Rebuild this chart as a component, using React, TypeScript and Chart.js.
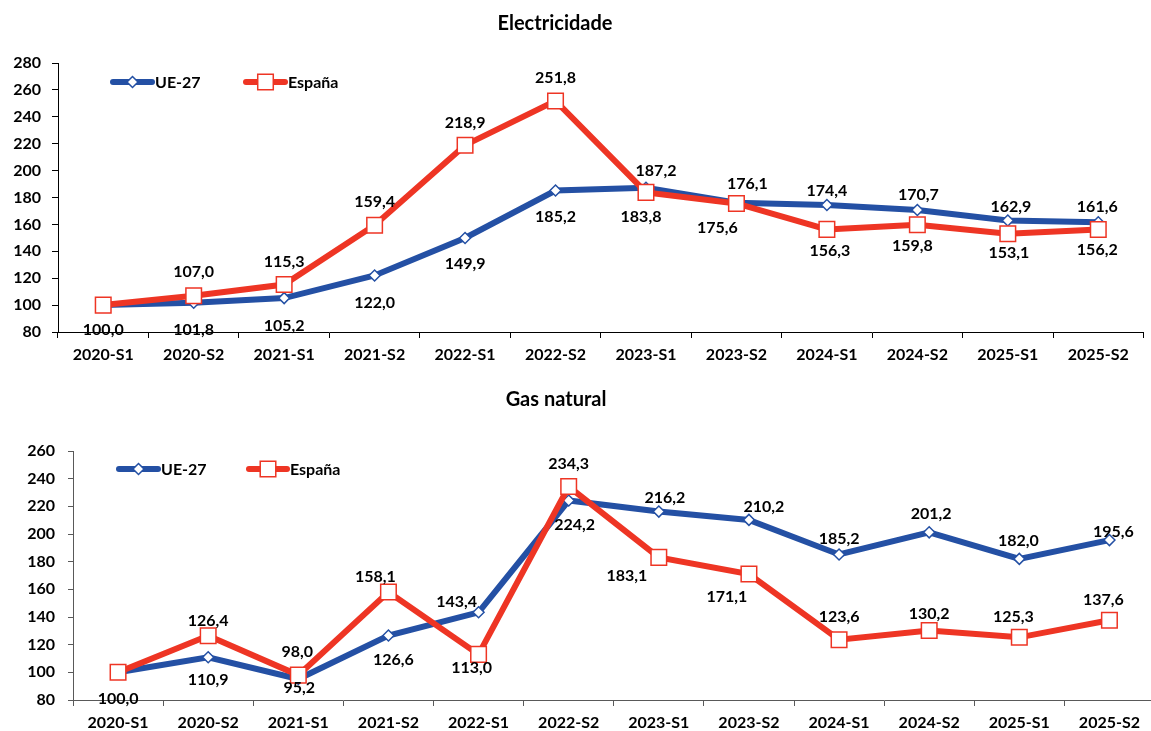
import React, { useEffect, useRef } from 'react';
import { Chart, registerables } from 'chart.js';

Chart.register(...registerables);

// ---------- data ----------
const categories = [
  '2020-S1', '2020-S2', '2021-S1', '2021-S2', '2022-S1', '2022-S2',
  '2023-S1', '2023-S2', '2024-S1', '2024-S2', '2025-S1', '2025-S2',
];

const elecUE = [100.0, 101.8, 105.2, 122.0, 149.9, 185.2, 187.2, 176.1, 174.4, 170.7, 162.9, 161.6];
const elecES = [100.0, 107.0, 115.3, 159.4, 218.9, 251.8, 183.8, 175.6, 156.3, 159.8, 153.1, 156.2];

const gasUE = [100.0, 110.9, 95.2, 126.6, 143.4, 224.2, 216.2, 210.2, 185.2, 201.2, 182.0, 195.6];
const gasES = [100.0, 126.4, 98.0, 158.1, 113.0, 234.3, 183.1, 171.1, 123.6, 130.2, 125.3, 137.6];

const seriesNames = ['UE-27', 'España'];
const chartTitles = ['Electricidade', 'Gas natural'];
const elecTickRange = [80, 280];
const gasTickRange = [80, 260];

// ---------- label placement (offsets from the point, px) ----------
type Off = [number, number] | null;
const elecUEOff: Off[] = [[0, 25], [0, 27], [0, 28], [0, 27], [0, 26], [0, 26], [10, -17], [11, -19], [0, -14], [1, -15], [3, -14], [-1, -15]];
const elecESOff: Off[] = [null, [0, -24], [0, -23], [0, -23], [0, -22], [0, -23], [-5, 24], [-19, 24], [3, 21], [-5, 21], [1, 19], [-1, 20]];
const gasUEOff: Off[] = [[0, 27], [0, 23], [1, 9], [5, 24], [-22, -10], [6, 24], [6, -14], [15, -13], [0, -16], [2, -18], [-1, -18], [4, -8]];
const gasESOff: Off[] = [null, [0, -15], [-1, -23], [-13, -15], [-7, 13], [0, -23], [-32, 18], [-22, 23], [0, -23], [0, -17], [-6, -20], [-6, -20]];

// ---------- styles ----------
const FONT = 'Lato, "Liberation Sans", Arial, sans-serif';
const BLUE = '#2450A4';
const RED = '#EE3524';

const fmt = (v: number) => v.toFixed(1).replace('.', ',');

type Spec = {
  title: string;
  width: number;
  height: number;
  ue: number[];
  es: number[];
  ueOff: Off[];
  esOff: Off[];
  range: number[];
  areaTop: number;
  padRight: number;
  yWidth: number;
  xHeight: number;
  yPad: number;
  tickLenY: number;
  axisColor: string;
  titleX: number;
  titleY: number;
  legend: { x1: number; x2: number; y: number; x3: number; x4: number };
};

function drawMarker(ctx: CanvasRenderingContext2D, style: string, x: number, y: number, r: number, color: string) {
  ctx.save();
  ctx.fillStyle = '#fff';
  ctx.strokeStyle = color;
  ctx.lineWidth = 1.5;
  ctx.beginPath();
  if (style === 'rectRot') {
    ctx.moveTo(x, y - r);
    ctx.lineTo(x + r, y);
    ctx.lineTo(x, y + r);
    ctx.lineTo(x - r, y);
    ctx.closePath();
  } else {
    const s = r * Math.SQRT1_2;
    ctx.rect(x - s, y - s, 2 * s, 2 * s);
  }
  ctx.fill();
  ctx.stroke();
  ctx.restore();
}

function LineChart({ spec }: { spec: Spec }) {
  const ref = useRef<HTMLCanvasElement | null>(null);
  useEffect(() => {
    const canvas = ref.current;
    if (!canvas) return;

    const decor = {
      id: 'decor',
      afterDatasetsDraw(chart: any) {
        const ctx: CanvasRenderingContext2D = chart.ctx;
        ctx.save();
        ctx.font = `bold 16px ${FONT}`;
        ctx.fillStyle = '#000';
        ctx.textAlign = 'center';
        ctx.textBaseline = 'middle';
        chart.data.datasets.forEach((ds: any, di: number) => {
          const meta = chart.getDatasetMeta(di);
          meta.data.forEach((pt: any, i: number) => {
            const off = ds.labelOffsets[i];
            if (!off) return;
            ctx.fillText(fmt(ds.data[i]), pt.x + off[0], pt.y + off[1]);
          });
        });
        // title
        ctx.font = `bold 20px ${FONT}`;
        ctx.fillText(spec.title, spec.titleX, spec.titleY);
        // legend
        const L = spec.legend;
        const items = [
          { x1: L.x1, x2: L.x2, ds: chart.data.datasets[0] },
          { x1: L.x3, x2: L.x4, ds: chart.data.datasets[1] },
        ];
        items.forEach((it) => {
          ctx.strokeStyle = it.ds.borderColor;
          ctx.lineWidth = 6;
          ctx.lineCap = 'round';
          ctx.beginPath();
          ctx.moveTo(it.x1, L.y);
          ctx.lineTo(it.x2, L.y);
          ctx.stroke();
          drawMarker(ctx, it.ds.pointStyle, (it.x1 + it.x2) / 2, L.y, it.ds.pointRadius, it.ds.borderColor);
          ctx.font = `bold 16px ${FONT}`;
          ctx.fillStyle = '#000';
          ctx.textAlign = 'left';
          ctx.fillText(it.ds.label, it.x2 + 3, L.y + 1);
        });
        ctx.restore();
      },
    };

    const tickFont = { family: FONT, size: 16, weight: 'bold' as const };

    const chart = new Chart(canvas, {
      type: 'line',
      data: {
        labels: categories,
        datasets: [
          {
            label: seriesNames[0],
            data: spec.ue,
            borderColor: BLUE,
            backgroundColor: '#fff',
            borderWidth: 6,
            pointStyle: 'rectRot',
            pointRadius: 5.5,
            pointBorderWidth: 1.5,
            pointBackgroundColor: '#fff',
            pointBorderColor: BLUE,
            tension: 0,
            order: 1,
            clip: false,
            labelOffsets: spec.ueOff,
          } as any,
          {
            label: seriesNames[1],
            data: spec.es,
            borderColor: RED,
            backgroundColor: '#fff',
            borderWidth: 6,
            pointStyle: 'rect',
            pointRadius: 11,
            pointBorderWidth: 1.5,
            pointBackgroundColor: '#fff',
            pointBorderColor: RED,
            tension: 0,
            order: 0,
            clip: false,
            labelOffsets: spec.esOff,
          } as any,
        ],
      },
      options: {
        responsive: false,
        animation: false,
        events: [],
        layout: { padding: { top: spec.areaTop, right: spec.padRight, left: 0, bottom: 0 } },
        plugins: {
          legend: { display: false },
          tooltip: { enabled: false },
          title: { display: false },
        },
        scales: {
          x: {
            type: 'category',
            offset: true,
            grid: {
              display: true,
              drawOnChartArea: false,
              drawTicks: true,
              tickLength: 6,
              color: spec.axisColor,
              offset: true,
            },
            border: { display: true, color: spec.axisColor, width: 1 },
            ticks: { color: '#000', font: tickFont, padding: 7, maxRotation: 0, autoSkip: false },
            afterFit: (s: any) => {
              s.height = spec.xHeight;
            },
          },
          y: {
            min: spec.range[0],
            max: spec.range[1],
            ticks: { stepSize: 20, color: '#000', font: tickFont, padding: spec.yPad },
            grid: {
              display: true,
              drawOnChartArea: false,
              drawTicks: true,
              tickLength: spec.tickLenY,
              color: spec.axisColor,
            },
            border: { display: true, color: spec.axisColor, width: 1 },
            afterFit: (s: any) => {
              s.width = spec.yWidth;
            },
          },
        },
      },
      plugins: [decor],
    });
    return () => chart.destroy();
  }, [spec]);

  return (
    <div style={{ width: spec.width, height: spec.height, position: 'relative' }}>
      <canvas
        ref={ref}
        width={spec.width}
        height={spec.height}
        style={{ display: 'block', width: spec.width, height: spec.height }}
      />
    </div>
  );
}

const elecSpec: Spec = {
  title: chartTitles[0],
  width: 1156,
  height: 365,
  ue: elecUE,
  es: elecES,
  ueOff: elecUEOff,
  esOff: elecESOff,
  range: elecTickRange,
  areaTop: 63,
  padRight: 0,
  yWidth: 58,
  xHeight: 33,
  yPad: 11,
  tickLenY: 6,
  axisColor: '#000',
  titleX: 555,
  titleY: 24,
  legend: { x1: 113, x2: 152, y: 82, x3: 246, x4: 285 },
};

const gasSpec: Spec = {
  title: chartTitles[1],
  width: 1167,
  height: 366,
  ue: gasUE,
  es: gasES,
  ueOff: gasUEOff,
  esOff: gasESOff,
  range: gasTickRange,
  areaTop: 86,
  padRight: 0,
  yWidth: 73,
  xHeight: 31,
  yPad: 13,
  tickLenY: 5,
  axisColor: '#595959',
  titleX: 556,
  titleY: 35,
  legend: { x1: 119, x2: 158, y: 104, x3: 249, x4: 287 },
};

export default function App() {
  useEffect(() => {
    document.body.style.margin = '0';
    document.body.style.background = '#fff';
    document.body.style.overflow = 'hidden';
  }, []);
  return (
    <div style={{ width: 1151, height: 731, background: '#fff', overflow: 'hidden' }}>
      <LineChart spec={elecSpec} />
      <LineChart spec={gasSpec} />
    </div>
  );
}
